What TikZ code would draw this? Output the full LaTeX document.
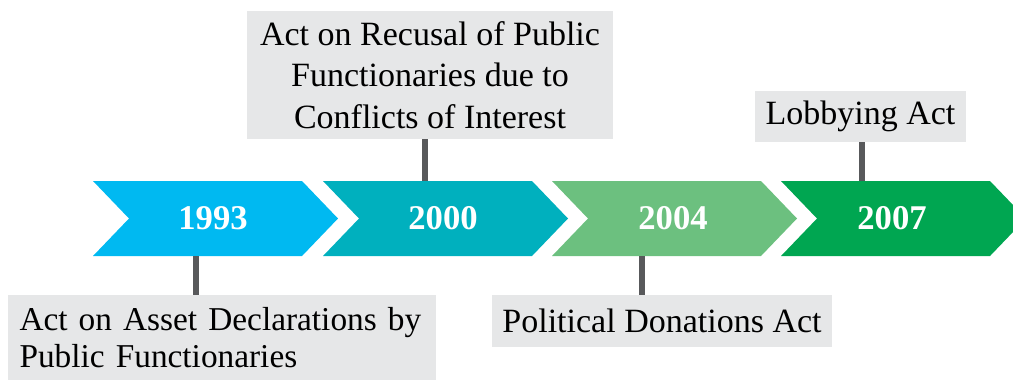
\documentclass[tikz,border=0pt]{standalone}
\usepackage{fontspec}
\setmainfont{Liberation Serif}
\usepackage{xcolor}
\usepackage{tikz}
\usetikzlibrary{positioning}

\definecolor{yearA}{HTML}{00B9F1}
\definecolor{yearB}{HTML}{00B0BE}
\definecolor{yearC}{HTML}{6CC07F}
\definecolor{yearD}{HTML}{00A651}
\definecolor{boxgray}{HTML}{E6E7E8}
\definecolor{stemgray}{HTML}{58595B}

\tikzset{
  actbox/.style={fill=boxgray, inner sep=0pt, font=\fontsize{25.5}{31}\selectfont},
  yearlabel/.style={text=white, font=\fontsize{26}{30}\selectfont\bfseries},
  stem/.style={stemgray, line width=3.8pt}
}

\begin{document}
\begin{tikzpicture}[x=0.75pt, y=-0.75pt]
\useasboundingbox (0,0) rectangle (1013,379);

% chevrons
\foreach \l/\c/\n/\y/\m in {93/yearA/yr1/1993/213, 323/yearB/yr2/2000/443, 552/yearC/yr3/2004/673, 781/yearD/yr4/2007/892}{
  \fill[\c] (\l,181) -- (\l+209,181) -- (\l+245,218.5) -- (\l+209,256) -- (\l,256) -- (\l+36,218.5) -- cycle;
  \node[yearlabel] (\n) at (\m,218.5) {\y};
}

% acts
\node[actbox, minimum width=366*0.75pt, minimum height=128*0.75pt, align=center] (act2) at (430,75)
  {Act on Recusal of Public\\Functionaries due to\\Conflicts of Interest};
\node[actbox, minimum width=211*0.75pt, minimum height=51*0.75pt] (act4) at (860.5,116.5) {Lobbying Act};
\node[actbox, minimum width=428*0.75pt, minimum height=86*0.75pt, text width=404*0.75pt, align=left,
  font=\fontsize{25}{27.75}\selectfont] (act1) at (221.5,338)
  {Act on Asset Declarations by\\Public Functionaries};
\node[actbox, minimum width=340*0.75pt, minimum height=52*0.75pt] (act3) at (662,321) {Political Donations Act};

% stems
\coordinate (s1) at (196,256);
\coordinate (s2) at (425,181);
\coordinate (s3) at (642,256);
\coordinate (s4) at (862,181);
\draw[stem] (act1.north -| s1) -- (s1);
\draw[stem] (act2.south -| s2) -- (s2);
\draw[stem] (act3.north -| s3) -- (s3);
\draw[stem] (act4.south -| s4) -- (s4);
\end{tikzpicture}
\end{document}
